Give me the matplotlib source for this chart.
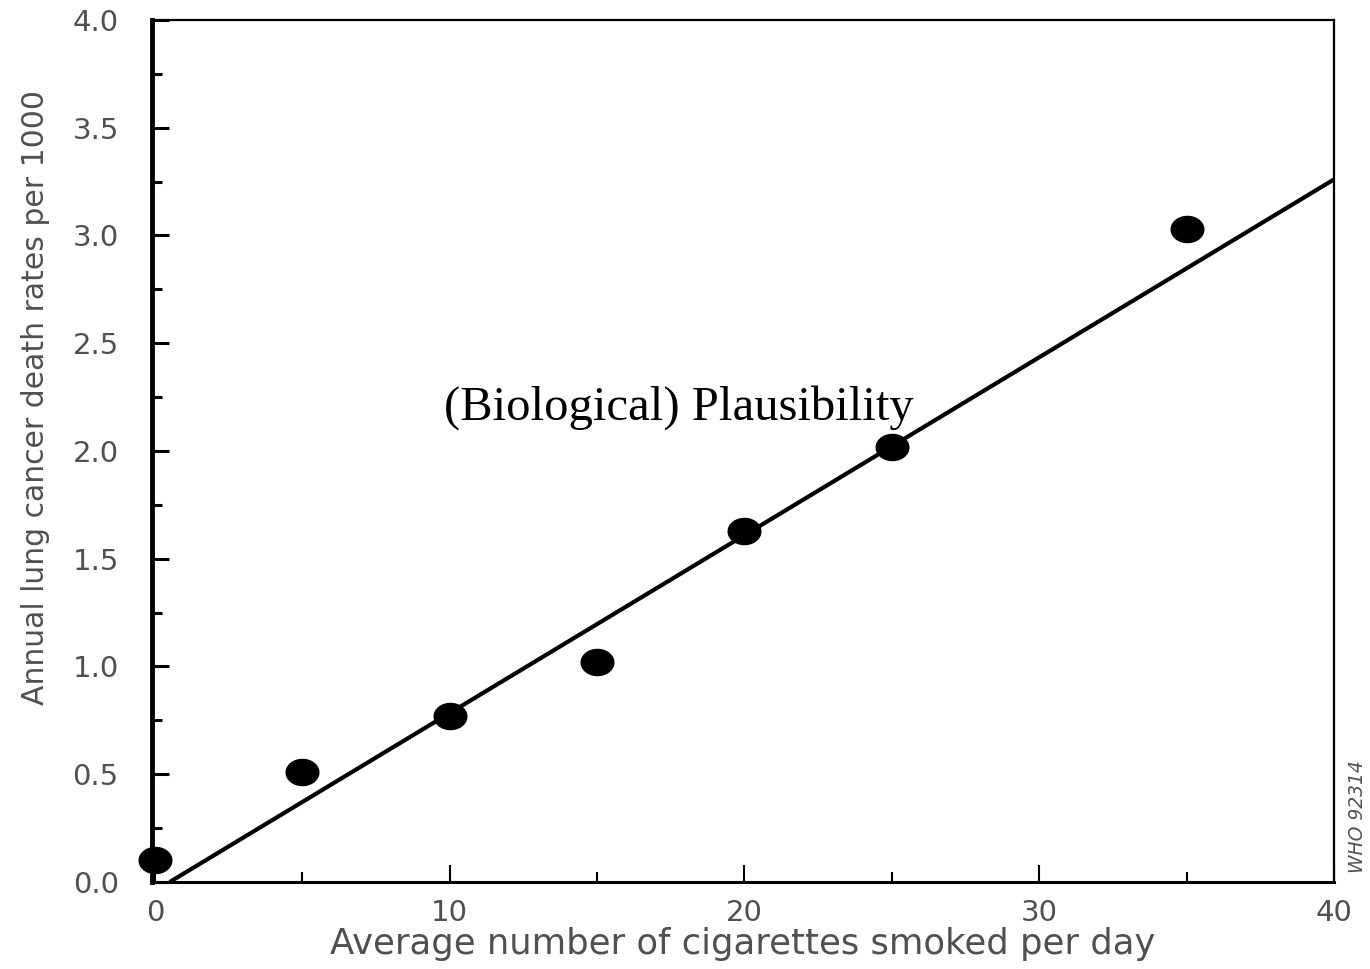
import numpy as np
import matplotlib as mpl
mpl.use('Agg')
import matplotlib.pyplot as plt
from matplotlib.ticker import MultipleLocator
from matplotlib.path import Path

# data
cigs = [0, 5, 10, 15, 20, 25, 35]
rates = [0.10, 0.51, 0.77, 1.02, 1.63, 2.02, 3.03]
fit_x = [0.5, 40]
fit_y = [0.0, 3.26]

# the scan is stretched sideways, so the dots are a bit wider than tall
t = np.linspace(0, 2 * np.pi, 60)
ell = Path(np.column_stack([np.cos(t), 0.8 * np.sin(t)]), closed=True)

fig = plt.figure(figsize=(13.7, 9.69), dpi=100)
ax = fig.add_axes([0.111, 0.0898, 0.8627, 0.8896])

ax.plot(fit_x, fit_y, color='black', lw=3, solid_capstyle='butt')
ax.plot(cigs, rates, ls='none', marker=ell, color='black', ms=23.5,
        clip_on=False, zorder=5)

ax.set_xlim(-0.1, 40)
ax.set_ylim(0, 4)

ax.xaxis.set_major_locator(MultipleLocator(10))
ax.xaxis.set_minor_locator(MultipleLocator(5))
ax.yaxis.set_major_locator(MultipleLocator(0.5))
ax.yaxis.set_minor_locator(MultipleLocator(0.25))
ax.yaxis.set_major_formatter(mpl.ticker.FormatStrFormatter('%.1f'))

lab_col = '#505050'
ax.tick_params(axis='y', which='major', direction='in', length=12, width=2.2,
               labelsize=21, labelcolor=lab_col, pad=24, color='black')
ax.tick_params(axis='y', which='minor', direction='in', length=7, width=2.2)
ax.tick_params(axis='x', which='major', direction='in', length=12, width=1.5,
               labelsize=21, labelcolor=lab_col, pad=12, color='black')
ax.tick_params(axis='x', which='minor', direction='in', length=7, width=1.5)

ax.spines['left'].set_linewidth(3.5)
ax.spines['bottom'].set_linewidth(2.2)
ax.spines['top'].set_linewidth(1.6)
ax.spines['right'].set_linewidth(1.6)

ax.set_xlabel('Average number of cigarettes smoked per day', fontsize=25.5,
              color=lab_col, labelpad=0)
ax.set_ylabel('Annual lung cancer death rates per 1000', fontsize=21.5,
              color=lab_col)
ax.yaxis.set_label_coords(-0.086, 0.5626)

ax.text(17.78, 2.144, '(Biological) Plausibility', fontsize=35,
        family='Liberation Serif', ha='center', va='baseline', color='black')

fig.text(0.991, 0.157, 'WHO 92314', rotation=90, fontsize=13.5, style='italic',
         color=lab_col, ha='center', va='center')

fig.savefig('out.png', dpi=100)
